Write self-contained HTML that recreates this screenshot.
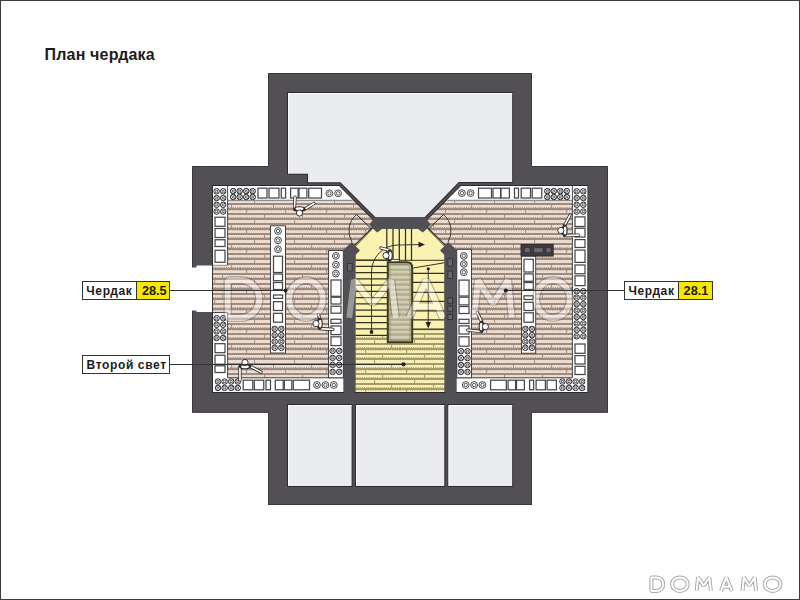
<!DOCTYPE html>
<html><head><meta charset="utf-8"><title>План чердака</title>
<style>
html,body{margin:0;padding:0;background:#fff;}
body{width:800px;height:600px;overflow:hidden;position:relative;font-family:"Liberation Sans",sans-serif;}
svg{position:absolute;left:0;top:0;display:block;}
.ttl{font-family:"Liberation Sans",sans-serif;font-weight:bold;font-size:16px;letter-spacing:0.17px;fill:#1c1c1c;}
.lb{font-family:"Liberation Sans",sans-serif;font-weight:bold;font-size:12px;letter-spacing:0.62px;fill:#1c1c1c;}
.lbn{font-family:"Liberation Sans",sans-serif;font-weight:bold;font-size:12.7px;fill:#231d00;}
.frame{position:absolute;left:0;top:0;width:798px;height:598px;border:1px solid #3c3c3c;pointer-events:none;}
</style></head>
<body>
<svg width="800" height="600" viewBox="0 0 800 600">
<defs>
<pattern id="pb" x="0" y="0" width="80" height="20" patternUnits="userSpaceOnUse">
 <rect width="80" height="20" fill="#ecdbcf"/>
 <rect y="3" width="80" height="2" fill="#9d8b80"/>
 <rect x="14" y="0" width="1.1" height="3" fill="#a89589"/>
 <rect x="54" y="0" width="1.1" height="3" fill="#a89589"/>
 <rect y="8" width="80" height="2" fill="#9d8b80"/>
 <rect x="33" y="5" width="1.1" height="3" fill="#a89589"/>
 <rect x="71" y="5" width="1.1" height="3" fill="#a89589"/>
 <path d="M0,7.5 H80" stroke="#9d8b80" stroke-width="0.9" stroke-dasharray="1,1.2"/>
 <rect y="13" width="80" height="2" fill="#9d8b80"/>
 <rect x="6" y="10" width="1.1" height="3" fill="#a89589"/>
 <rect x="45" y="10" width="1.1" height="3" fill="#a89589"/>
 <path d="M0,10.5 H80" stroke="#9d8b80" stroke-width="0.8" stroke-dasharray="1,1.4" stroke-opacity="0.7"/>
 <rect y="18" width="80" height="2" fill="#9d8b80"/>
 <rect x="24" y="15" width="1.1" height="3" fill="#a89589"/>
 <rect x="62" y="15" width="1.1" height="3" fill="#a89589"/>
 <path d="M0,17.5 H80" stroke="#9d8b80" stroke-width="0.9" stroke-dasharray="1,1.2"/>
</pattern>
<pattern id="py" x="0" y="0" width="80" height="20" patternUnits="userSpaceOnUse">
 <rect width="80" height="20" fill="#f5eebd"/>
 <rect y="3" width="80" height="2" fill="#a69c60"/>
 <rect x="14" y="0" width="1.1" height="3" fill="#aea468"/>
 <rect x="54" y="0" width="1.1" height="3" fill="#aea468"/>
 <rect y="8" width="80" height="2" fill="#a69c60"/>
 <rect x="33" y="5" width="1.1" height="3" fill="#aea468"/>
 <rect x="71" y="5" width="1.1" height="3" fill="#aea468"/>
 <path d="M0,7.5 H80" stroke="#a69c60" stroke-width="0.9" stroke-dasharray="1,1.2"/>
 <rect y="13" width="80" height="2" fill="#a69c60"/>
 <rect x="6" y="10" width="1.1" height="3" fill="#aea468"/>
 <rect x="45" y="10" width="1.1" height="3" fill="#aea468"/>
 <path d="M0,10.5 H80" stroke="#a69c60" stroke-width="0.8" stroke-dasharray="1,1.4" stroke-opacity="0.7"/>
 <rect y="18" width="80" height="2" fill="#a69c60"/>
 <rect x="24" y="15" width="1.1" height="3" fill="#aea468"/>
 <rect x="62" y="15" width="1.1" height="3" fill="#aea468"/>
 <path d="M0,17.5 H80" stroke="#a69c60" stroke-width="0.9" stroke-dasharray="1,1.2"/>
</pattern>
<pattern id="pw" x="0" y="0.6" width="40" height="10" patternUnits="userSpaceOnUse">
 <rect width="40" height="10" fill="#d3cfb2"/>
 <rect y="3.3" width="40" height="1.7" fill="#a9a384"/>
 <rect y="8.3" width="40" height="1.7" fill="#a9a384"/>
 <path d="M0,2.8 H40" stroke="#a9a384" stroke-width="0.9" stroke-dasharray="1,1.2"/>
</pattern>
<g id="bt">
 <circle r="2.75" fill="#fff" stroke="#2a2a2a" stroke-width="1.0"/>
 <circle r="1.05" fill="none" stroke="#333" stroke-width="0.7"/>
 <path d="M-2,-2 L-0.9,-0.9 M2,2 L0.9,0.9 M-2,2 L-0.9,0.9 M2,-2 L0.9,-0.9" stroke="#333" stroke-width="0.85"/>
</g>
</defs>
<polygon points="268.00,73.00 532.00,73.00 532.00,166.00 608.00,166.00 608.00,412.70 532.00,412.70 532.00,505.00 268.00,505.00 268.00,412.70 192.00,412.70 192.00,166.00 268.00,166.00" fill="#535055" stroke="none" stroke-width="0"/>
<polygon points="268.50,73.50 531.50,73.50 531.50,166.50 607.50,166.50 607.50,412.20 531.50,412.20 531.50,504.50 268.50,504.50 268.50,412.20 192.50,412.20 192.50,166.50 268.50,166.50" fill="none" stroke="#3a383c" stroke-width="1"/>
<rect x="191.00" y="267.50" width="22.00" height="43.00" fill="#fff" stroke="none" stroke-width="0"/>
<rect x="196.50" y="265.50" width="16.50" height="46.50" fill="#fff" stroke="none" stroke-width="0"/>
<polygon points="288.00,93.00 512.20,93.00 512.20,182.00 458.75,182.00 424.50,217.30 375.50,217.30 340.50,182.30 308.00,182.30 308.00,173.75 288.00,173.75" fill="#ebecef" stroke="#2c2a2e" stroke-width="2" paint-order="stroke" stroke-linejoin="miter"/>
<path d="M288.5,173.5 V93.5 H512.2" fill="none" stroke="#fbfbfc" stroke-width="1"/>
<polygon points="288.00,405.00 351.60,405.00 351.60,486.00 288.00,486.00" fill="#ebecef" stroke="#2c2a2e" stroke-width="2" paint-order="stroke" stroke-linejoin="miter"/>
<path d="M288.5,486 V405.5 H351.6" fill="none" stroke="#fbfbfc" stroke-width="1"/>
<polygon points="356.00,405.00 444.30,405.00 444.30,486.00 356.00,486.00" fill="#ebecef" stroke="#2c2a2e" stroke-width="2" paint-order="stroke" stroke-linejoin="miter"/>
<path d="M356.5,486 V405.5 H444.3" fill="none" stroke="#fbfbfc" stroke-width="1"/>
<polygon points="448.50,405.00 512.20,405.00 512.20,486.00 448.50,486.00" fill="#ebecef" stroke="#2c2a2e" stroke-width="2" paint-order="stroke" stroke-linejoin="miter"/>
<path d="M449.0,486 V405.5 H512.2" fill="none" stroke="#fbfbfc" stroke-width="1"/>
<polygon points="213.00,186.00 338.80,186.00 377.00,224.20 343.30,257.90 343.30,392.00 213.00,392.00" fill="url(#pb)" stroke="#2c2a2e" stroke-width="2" paint-order="stroke" stroke-linejoin="miter"/>
<polygon points="461.20,186.00 587.20,186.00 587.20,392.00 456.70,392.00 456.70,257.90 423.00,224.20" fill="url(#pb)" stroke="#2c2a2e" stroke-width="2" paint-order="stroke" stroke-linejoin="miter"/>
<polygon points="355.50,392.00 355.50,245.00 372.00,228.75 428.00,228.75 444.50,245.00 444.50,392.00" fill="#faf2b1" stroke="#2c2a2e" stroke-width="2" paint-order="stroke" stroke-linejoin="miter"/>
<rect x="355.50" y="329.00" width="89.00" height="62.80" fill="url(#py)" stroke="none" stroke-width="0"/>
<rect x="355.50" y="260.30" width="32.00" height="74.95" fill="#faf2b1" stroke="none" stroke-width="0"/>
<line x1="355.50" y1="260.20" x2="387.50" y2="260.20" stroke="#34301a" stroke-width="1.25"/>
<line x1="355.50" y1="266.45" x2="387.50" y2="266.45" stroke="#34301a" stroke-width="1.25"/>
<line x1="355.50" y1="272.71" x2="387.50" y2="272.71" stroke="#34301a" stroke-width="1.25"/>
<line x1="355.50" y1="278.96" x2="387.50" y2="278.96" stroke="#34301a" stroke-width="1.25"/>
<line x1="355.50" y1="285.22" x2="387.50" y2="285.22" stroke="#34301a" stroke-width="1.25"/>
<line x1="355.50" y1="291.47" x2="387.50" y2="291.47" stroke="#34301a" stroke-width="1.25"/>
<line x1="355.50" y1="297.72" x2="387.50" y2="297.72" stroke="#34301a" stroke-width="1.25"/>
<line x1="355.50" y1="303.98" x2="387.50" y2="303.98" stroke="#34301a" stroke-width="1.25"/>
<line x1="355.50" y1="310.23" x2="387.50" y2="310.23" stroke="#34301a" stroke-width="1.25"/>
<line x1="355.50" y1="316.49" x2="387.50" y2="316.49" stroke="#34301a" stroke-width="1.25"/>
<line x1="355.50" y1="322.74" x2="387.50" y2="322.74" stroke="#34301a" stroke-width="1.25"/>
<line x1="355.50" y1="328.99" x2="387.50" y2="328.99" stroke="#34301a" stroke-width="1.25"/>
<line x1="355.50" y1="335.25" x2="387.50" y2="335.25" stroke="#34301a" stroke-width="1.25"/>
<line x1="386.80" y1="228.75" x2="386.80" y2="260.30" stroke="#34301a" stroke-width="1.25"/>
<line x1="393.00" y1="228.75" x2="393.00" y2="260.30" stroke="#34301a" stroke-width="1.25"/>
<line x1="399.30" y1="228.75" x2="399.30" y2="260.30" stroke="#34301a" stroke-width="1.25"/>
<line x1="405.50" y1="228.75" x2="405.50" y2="260.30" stroke="#34301a" stroke-width="1.25"/>
<line x1="411.50" y1="228.75" x2="411.50" y2="260.30" stroke="#34301a" stroke-width="1.25"/>
<line x1="355.50" y1="260.30" x2="444.50" y2="260.30" stroke="#3b3520" stroke-width="1.0"/>
<line x1="412.50" y1="273.25" x2="444.50" y2="273.25" stroke="#34301a" stroke-width="1.25"/>
<line x1="412.50" y1="282.25" x2="444.50" y2="282.25" stroke="#34301a" stroke-width="1.25"/>
<line x1="412.50" y1="292.45" x2="444.50" y2="292.45" stroke="#34301a" stroke-width="1.25"/>
<line x1="412.50" y1="301.45" x2="444.50" y2="301.45" stroke="#34301a" stroke-width="1.25"/>
<line x1="412.50" y1="310.75" x2="444.50" y2="310.75" stroke="#34301a" stroke-width="1.25"/>
<line x1="412.50" y1="319.75" x2="444.50" y2="319.75" stroke="#34301a" stroke-width="1.25"/>
<line x1="412.50" y1="329.05" x2="444.50" y2="329.05" stroke="#34301a" stroke-width="1.25"/>
<line x1="413.25" y1="268.00" x2="444.30" y2="262.75" stroke="#3b3520" stroke-width="1.0"/>
<path d="M387.8,342.3 L387.8,262.3 L406.8,262.3 Q412.2,262.3 412.2,267.7 L412.2,342.3 Z" fill="url(#pw)" stroke="#3d3922" stroke-width="2.0"/>
<path d="M390,340.2 L390,264.5 L406.5,264.5 Q410,264.5 410,268 L410,340.2 Z" fill="none" stroke="#8d8868" stroke-width="0.8"/>
<path d="M371.5,332 L371.5,272 A26.5,27 0 0 1 398,245 L419,244.6" fill="none" stroke="#222" stroke-width="0.9"/>
<polygon points="425,244.6 418.5,241.8 418.5,247.4" fill="#222"/>
<circle cx="371.5" cy="332" r="1.9" fill="#222"/>
<line x1="428.25" y1="268.75" x2="428.25" y2="322.00" stroke="#222" stroke-width="0.9"/>
<polygon points="428.25,328.5 425.5,322 431,322" fill="#222"/>
<circle cx="428.25" cy="268.75" r="1.6" fill="#222"/>
<polygon points="372.90,219.60 369.20,225.00 377.10,232.60 382.00,229.00 382.00,217.30 375.50,217.30" fill="#535055" stroke="none" stroke-width="0"/>
<polygon points="427.10,219.60 430.80,225.00 422.90,232.60 418.00,229.00 418.00,217.30 424.50,217.30" fill="#535055" stroke="none" stroke-width="0"/>
<rect x="375.50" y="217.30" width="49.00" height="11.45" fill="#535055" stroke="none" stroke-width="0"/>
<polygon points="343.30,250.00 351.70,242.10 360.00,250.40 355.50,254.90 355.50,392.00 343.30,392.00" fill="#535055" stroke="none" stroke-width="0"/>
<polygon points="456.70,250.00 448.30,242.10 440.00,250.40 444.50,254.90 444.50,392.00 456.70,392.00" fill="#535055" stroke="none" stroke-width="0"/>
<rect x="347.60" y="263.50" width="4.50" height="7.50" fill="#6a676c" stroke="#2e2c30" stroke-width="0.8"/>
<rect x="447.90" y="258.80" width="4.50" height="7.40" fill="#6a676c" stroke="#2e2c30" stroke-width="0.8"/>
<rect x="447.90" y="271.20" width="4.50" height="7.30" fill="#6a676c" stroke="#2e2c30" stroke-width="0.8"/>
<rect x="447.90" y="298.00" width="4.50" height="5.20" fill="#6a676c" stroke="#2e2c30" stroke-width="0.8"/>
<rect x="447.90" y="306.20" width="4.50" height="5.00" fill="#6a676c" stroke="#2e2c30" stroke-width="0.8"/>
<rect x="447.90" y="314.40" width="4.50" height="5.20" fill="#6a676c" stroke="#2e2c30" stroke-width="0.8"/>
<line x1="371.70" y1="229.60" x2="355.80" y2="245.80" stroke="#222" stroke-width="0.9"/>
<line x1="428.30" y1="229.60" x2="444.20" y2="245.80" stroke="#222" stroke-width="0.9"/>
<line x1="372.00" y1="229.50" x2="356.50" y2="214.50" stroke="#222" stroke-width="1.0"/>
<path d="M356.5,214.5 A21.6,21.6 0 0 0 352,242" fill="none" stroke="#2a2a2a" stroke-width="0.9"/>
<line x1="428.00" y1="229.50" x2="443.50" y2="214.50" stroke="#222" stroke-width="1.0"/>
<path d="M443.5,214.5 A21.6,21.6 0 0 1 448,242" fill="none" stroke="#2a2a2a" stroke-width="0.9"/>
<polygon points="213.00,186.00 338.80,186.00 353.10,200.30 213.00,200.30" fill="#fff" stroke="none" stroke-width="0"/>
<line x1="227.50" y1="200.30" x2="352.50" y2="200.30" stroke="#8c8c8c" stroke-width="1.2"/>
<rect x="213.00" y="186.00" width="14.50" height="79.30" fill="#fff" stroke="none" stroke-width="0"/>
<line x1="227.60" y1="186.00" x2="227.60" y2="265.30" stroke="#333" stroke-width="0.9"/>
<line x1="213.00" y1="265.30" x2="227.50" y2="265.30" stroke="#8c8c8c" stroke-width="1"/>
<rect x="213.00" y="312.50" width="14.50" height="65.50" fill="#fff" stroke="none" stroke-width="0"/>
<line x1="227.60" y1="312.50" x2="227.60" y2="378.00" stroke="#333" stroke-width="0.9"/>
<line x1="213.00" y1="312.50" x2="227.50" y2="312.50" stroke="#333" stroke-width="0.9"/>
<rect x="213.00" y="377.80" width="130.30" height="14.20" fill="#fff" stroke="none" stroke-width="0"/>
<line x1="227.50" y1="377.80" x2="343.30" y2="377.80" stroke="#333" stroke-width="0.9"/>
<rect x="328.50" y="250.60" width="14.80" height="127.20" fill="#fff" stroke="#333" stroke-width="0.9"/>
<rect x="270.50" y="225.80" width="15.00" height="127.20" fill="#fff" stroke="#333" stroke-width="0.9"/>
<line x1="212.50" y1="265.30" x2="212.50" y2="312.50" stroke="#333" stroke-width="1"/>
<use href="#bt" x="233.20" y="191.10"/>
<use href="#bt" x="239.70" y="191.10"/>
<use href="#bt" x="246.20" y="191.10"/>
<use href="#bt" x="252.70" y="191.10"/>
<use href="#bt" x="233.20" y="197.00"/>
<use href="#bt" x="239.70" y="197.00"/>
<use href="#bt" x="246.20" y="197.00"/>
<use href="#bt" x="252.70" y="197.00"/>
<rect x="258.00" y="188.20" width="9.00" height="9.80" fill="#fff" stroke="#474747" stroke-width="1.25"/>
<rect x="269.00" y="188.20" width="10.00" height="9.80" fill="#fff" stroke="#474747" stroke-width="1.25"/>
<rect x="281.25" y="188.20" width="4.35" height="9.80" fill="#fff" stroke="#474747" stroke-width="1.25"/>
<rect x="290.60" y="188.20" width="7.50" height="9.80" fill="#fff" stroke="#474747" stroke-width="1.25"/>
<rect x="299.00" y="188.20" width="7.90" height="9.80" fill="#fff" stroke="#474747" stroke-width="1.25"/>
<rect x="308.75" y="188.20" width="12.75" height="9.80" fill="#fff" stroke="#474747" stroke-width="1.25"/>
<circle cx="329.40" cy="193.30" r="3.40" fill="#fff" stroke="#333" stroke-width="0.9"/>
<circle cx="329.40" cy="193.30" r="1.70" fill="none" stroke="#333" stroke-width="0.8"/>
<circle cx="338.10" cy="193.30" r="3.40" fill="#fff" stroke="#333" stroke-width="0.9"/>
<circle cx="338.10" cy="193.30" r="1.70" fill="none" stroke="#333" stroke-width="0.8"/>
<use href="#bt" x="216.60" y="191.30"/>
<use href="#bt" x="223.20" y="191.30"/>
<use href="#bt" x="216.60" y="198.05"/>
<use href="#bt" x="223.20" y="198.05"/>
<use href="#bt" x="216.60" y="204.80"/>
<use href="#bt" x="223.20" y="204.80"/>
<use href="#bt" x="216.60" y="211.55"/>
<use href="#bt" x="223.20" y="211.55"/>
<rect x="215.00" y="217.25" width="10.00" height="9.00" fill="#fff" stroke="#474747" stroke-width="1.25"/>
<rect x="215.00" y="228.50" width="10.00" height="9.00" fill="#fff" stroke="#474747" stroke-width="1.25"/>
<rect x="215.00" y="239.75" width="10.00" height="6.75" fill="#fff" stroke="#474747" stroke-width="1.25"/>
<rect x="215.00" y="250.25" width="10.00" height="12.00" fill="#fff" stroke="#474747" stroke-width="1.25"/>
<use href="#bt" x="216.60" y="318.20"/>
<use href="#bt" x="223.20" y="318.20"/>
<use href="#bt" x="216.60" y="324.80"/>
<use href="#bt" x="223.20" y="324.80"/>
<use href="#bt" x="216.60" y="331.40"/>
<use href="#bt" x="223.20" y="331.40"/>
<use href="#bt" x="216.60" y="338.00"/>
<use href="#bt" x="223.20" y="338.00"/>
<rect x="215.00" y="343.70" width="10.00" height="9.00" fill="#fff" stroke="#474747" stroke-width="1.25"/>
<rect x="215.00" y="355.25" width="10.00" height="9.00" fill="#fff" stroke="#474747" stroke-width="1.25"/>
<rect x="215.00" y="365.75" width="10.00" height="6.75" fill="#fff" stroke="#474747" stroke-width="1.25"/>
<use href="#bt" x="218.00" y="381.50"/>
<use href="#bt" x="224.60" y="381.50"/>
<use href="#bt" x="231.20" y="381.50"/>
<use href="#bt" x="237.80" y="381.50"/>
<use href="#bt" x="218.00" y="387.90"/>
<use href="#bt" x="224.60" y="387.90"/>
<use href="#bt" x="231.20" y="387.90"/>
<use href="#bt" x="237.80" y="387.90"/>
<rect x="243.20" y="380.20" width="9.60" height="9.60" fill="#fff" stroke="#474747" stroke-width="1.25"/>
<rect x="254.30" y="380.20" width="9.45" height="9.60" fill="#fff" stroke="#474747" stroke-width="1.25"/>
<rect x="266.00" y="380.20" width="4.50" height="9.60" fill="#fff" stroke="#474747" stroke-width="1.25"/>
<rect x="275.30" y="380.20" width="7.95" height="9.60" fill="#fff" stroke="#474747" stroke-width="1.25"/>
<rect x="284.30" y="380.20" width="7.50" height="9.60" fill="#fff" stroke="#474747" stroke-width="1.25"/>
<rect x="293.30" y="380.20" width="16.20" height="9.60" fill="#fff" stroke="#474747" stroke-width="1.25"/>
<circle cx="317.00" cy="385.00" r="3.40" fill="#fff" stroke="#333" stroke-width="0.9"/>
<circle cx="317.00" cy="385.00" r="1.70" fill="none" stroke="#333" stroke-width="0.8"/>
<circle cx="325.40" cy="385.00" r="3.40" fill="#fff" stroke="#333" stroke-width="0.9"/>
<circle cx="325.40" cy="385.00" r="1.70" fill="none" stroke="#333" stroke-width="0.8"/>
<circle cx="333.80" cy="385.00" r="3.40" fill="#fff" stroke="#333" stroke-width="0.9"/>
<circle cx="333.80" cy="385.00" r="1.70" fill="none" stroke="#333" stroke-width="0.8"/>
<circle cx="335.90" cy="255.90" r="3.40" fill="#fff" stroke="#333" stroke-width="0.9"/>
<circle cx="335.90" cy="255.90" r="1.70" fill="none" stroke="#333" stroke-width="0.8"/>
<circle cx="335.90" cy="264.80" r="3.40" fill="#fff" stroke="#333" stroke-width="0.9"/>
<circle cx="335.90" cy="264.80" r="1.70" fill="none" stroke="#333" stroke-width="0.8"/>
<circle cx="335.90" cy="273.60" r="3.40" fill="#fff" stroke="#333" stroke-width="0.9"/>
<circle cx="335.90" cy="273.60" r="1.70" fill="none" stroke="#333" stroke-width="0.8"/>
<rect x="331.00" y="280.00" width="10.00" height="16.30" fill="#fff" stroke="#474747" stroke-width="1.25"/>
<rect x="331.00" y="297.20" width="10.00" height="6.80" fill="#fff" stroke="#474747" stroke-width="1.25"/>
<rect x="331.00" y="306.20" width="10.00" height="7.00" fill="#fff" stroke="#474747" stroke-width="1.25"/>
<rect x="331.00" y="319.25" width="10.00" height="4.05" fill="#fff" stroke="#474747" stroke-width="1.25"/>
<rect x="331.00" y="326.00" width="10.00" height="8.60" fill="#fff" stroke="#474747" stroke-width="1.25"/>
<rect x="331.00" y="336.80" width="10.00" height="8.80" fill="#fff" stroke="#474747" stroke-width="1.25"/>
<use href="#bt" x="332.60" y="350.90"/>
<use href="#bt" x="339.20" y="350.90"/>
<use href="#bt" x="332.60" y="357.90"/>
<use href="#bt" x="339.20" y="357.90"/>
<use href="#bt" x="332.60" y="364.90"/>
<use href="#bt" x="339.20" y="364.90"/>
<use href="#bt" x="332.60" y="371.90"/>
<use href="#bt" x="339.20" y="371.90"/>
<circle cx="278.00" cy="231.00" r="3.40" fill="#fff" stroke="#333" stroke-width="0.9"/>
<circle cx="278.00" cy="231.00" r="1.70" fill="none" stroke="#333" stroke-width="0.8"/>
<circle cx="278.00" cy="240.30" r="3.40" fill="#fff" stroke="#333" stroke-width="0.9"/>
<circle cx="278.00" cy="240.30" r="1.70" fill="none" stroke="#333" stroke-width="0.8"/>
<circle cx="278.00" cy="249.20" r="3.40" fill="#fff" stroke="#333" stroke-width="0.9"/>
<circle cx="278.00" cy="249.20" r="1.70" fill="none" stroke="#333" stroke-width="0.8"/>
<rect x="273.50" y="256.20" width="9.00" height="16.30" fill="#fff" stroke="#474747" stroke-width="1.25"/>
<rect x="273.50" y="274.00" width="9.00" height="6.70" fill="#fff" stroke="#474747" stroke-width="1.25"/>
<rect x="273.50" y="282.50" width="9.00" height="7.00" fill="#fff" stroke="#474747" stroke-width="1.25"/>
<rect x="273.50" y="295.00" width="9.00" height="3.40" fill="#fff" stroke="#474747" stroke-width="1.25"/>
<rect x="273.50" y="301.70" width="9.00" height="8.80" fill="#fff" stroke="#474747" stroke-width="1.25"/>
<rect x="273.50" y="313.30" width="9.00" height="8.90" fill="#fff" stroke="#474747" stroke-width="1.25"/>
<use href="#bt" x="274.70" y="328.90"/>
<use href="#bt" x="281.30" y="328.90"/>
<use href="#bt" x="274.70" y="335.20"/>
<use href="#bt" x="281.30" y="335.20"/>
<use href="#bt" x="274.70" y="341.50"/>
<use href="#bt" x="281.30" y="341.50"/>
<use href="#bt" x="274.70" y="347.80"/>
<use href="#bt" x="281.30" y="347.80"/>
<polygon points="461.20,186.00 587.20,186.00 587.20,200.30 446.90,200.30" fill="#fff" stroke="none" stroke-width="0"/>
<line x1="447.50" y1="200.30" x2="572.50" y2="200.30" stroke="#8c8c8c" stroke-width="1.2"/>
<rect x="572.50" y="186.00" width="14.70" height="191.80" fill="#fff" stroke="none" stroke-width="0"/>
<line x1="572.40" y1="186.00" x2="572.40" y2="377.80" stroke="#333" stroke-width="0.9"/>
<rect x="456.70" y="377.80" width="130.50" height="14.20" fill="#fff" stroke="none" stroke-width="0"/>
<line x1="456.70" y1="377.80" x2="572.50" y2="377.80" stroke="#333" stroke-width="0.9"/>
<rect x="456.80" y="249.30" width="14.70" height="128.50" fill="#fff" stroke="#333" stroke-width="0.9"/>
<rect x="521.50" y="256.00" width="14.20" height="97.20" fill="#fff" stroke="#333" stroke-width="0.9"/>
<rect x="521.00" y="244.50" width="32.20" height="11.60" fill="#3f3c40" stroke="#222" stroke-width="0.8"/>
<rect x="524.50" y="247.80" width="5.50" height="5.00" fill="#6b686d" stroke="#2a282b" stroke-width="0.6"/>
<rect x="533.50" y="247.80" width="9.50" height="5.00" fill="#6b686d" stroke="#2a282b" stroke-width="0.6"/>
<rect x="546.00" y="247.80" width="5.00" height="5.00" fill="#6b686d" stroke="#2a282b" stroke-width="0.6"/>
<circle cx="461.90" cy="193.10" r="3.40" fill="#fff" stroke="#333" stroke-width="0.9"/>
<circle cx="461.90" cy="193.10" r="1.70" fill="none" stroke="#333" stroke-width="0.8"/>
<circle cx="470.60" cy="193.10" r="3.40" fill="#fff" stroke="#333" stroke-width="0.9"/>
<circle cx="470.60" cy="193.10" r="1.70" fill="none" stroke="#333" stroke-width="0.8"/>
<rect x="478.50" y="188.20" width="13.00" height="9.80" fill="#fff" stroke="#474747" stroke-width="1.25"/>
<rect x="493.00" y="188.20" width="7.60" height="9.80" fill="#fff" stroke="#474747" stroke-width="1.25"/>
<rect x="501.00" y="188.20" width="8.40" height="9.80" fill="#fff" stroke="#474747" stroke-width="1.25"/>
<rect x="514.50" y="188.20" width="4.00" height="9.80" fill="#fff" stroke="#474747" stroke-width="1.25"/>
<rect x="521.20" y="188.20" width="9.30" height="9.80" fill="#fff" stroke="#474747" stroke-width="1.25"/>
<rect x="532.20" y="188.20" width="9.60" height="9.80" fill="#fff" stroke="#474747" stroke-width="1.25"/>
<use href="#bt" x="547.30" y="191.10"/>
<use href="#bt" x="553.80" y="191.10"/>
<use href="#bt" x="560.30" y="191.10"/>
<use href="#bt" x="566.80" y="191.10"/>
<use href="#bt" x="547.30" y="197.00"/>
<use href="#bt" x="553.80" y="197.00"/>
<use href="#bt" x="560.30" y="197.00"/>
<use href="#bt" x="566.80" y="197.00"/>
<use href="#bt" x="576.70" y="191.30"/>
<use href="#bt" x="583.30" y="191.30"/>
<use href="#bt" x="576.70" y="198.05"/>
<use href="#bt" x="583.30" y="198.05"/>
<use href="#bt" x="576.70" y="204.80"/>
<use href="#bt" x="583.30" y="204.80"/>
<use href="#bt" x="576.70" y="211.55"/>
<use href="#bt" x="583.30" y="211.55"/>
<rect x="575.00" y="216.90" width="10.00" height="9.60" fill="#fff" stroke="#474747" stroke-width="1.25"/>
<rect x="575.00" y="228.25" width="10.00" height="8.75" fill="#fff" stroke="#474747" stroke-width="1.25"/>
<rect x="575.00" y="239.60" width="10.00" height="7.90" fill="#fff" stroke="#474747" stroke-width="1.25"/>
<rect x="575.00" y="250.10" width="10.00" height="12.30" fill="#fff" stroke="#474747" stroke-width="1.25"/>
<rect x="575.00" y="265.00" width="10.00" height="8.75" fill="#fff" stroke="#474747" stroke-width="1.25"/>
<rect x="575.00" y="275.90" width="10.00" height="9.70" fill="#fff" stroke="#474747" stroke-width="1.25"/>
<use href="#bt" x="576.70" y="291.20"/>
<use href="#bt" x="583.30" y="291.20"/>
<use href="#bt" x="576.70" y="297.65"/>
<use href="#bt" x="583.30" y="297.65"/>
<use href="#bt" x="576.70" y="304.10"/>
<use href="#bt" x="583.30" y="304.10"/>
<use href="#bt" x="576.70" y="310.55"/>
<use href="#bt" x="583.30" y="310.55"/>
<use href="#bt" x="576.70" y="317.00"/>
<use href="#bt" x="583.30" y="317.00"/>
<use href="#bt" x="576.70" y="323.45"/>
<use href="#bt" x="583.30" y="323.45"/>
<use href="#bt" x="576.70" y="329.90"/>
<use href="#bt" x="583.30" y="329.90"/>
<use href="#bt" x="576.70" y="336.35"/>
<use href="#bt" x="583.30" y="336.35"/>
<rect x="575.00" y="344.00" width="10.00" height="9.30" fill="#fff" stroke="#474747" stroke-width="1.25"/>
<rect x="575.00" y="355.60" width="10.00" height="8.40" fill="#fff" stroke="#474747" stroke-width="1.25"/>
<rect x="575.00" y="366.30" width="10.00" height="8.20" fill="#fff" stroke="#474747" stroke-width="1.25"/>
<circle cx="465.75" cy="385.00" r="3.40" fill="#fff" stroke="#333" stroke-width="0.9"/>
<circle cx="465.75" cy="385.00" r="1.70" fill="none" stroke="#333" stroke-width="0.8"/>
<circle cx="474.15" cy="385.00" r="3.40" fill="#fff" stroke="#333" stroke-width="0.9"/>
<circle cx="474.15" cy="385.00" r="1.70" fill="none" stroke="#333" stroke-width="0.8"/>
<circle cx="482.40" cy="385.00" r="3.40" fill="#fff" stroke="#333" stroke-width="0.9"/>
<circle cx="482.40" cy="385.00" r="1.70" fill="none" stroke="#333" stroke-width="0.8"/>
<rect x="490.60" y="380.20" width="15.75" height="9.60" fill="#fff" stroke="#474747" stroke-width="1.25"/>
<rect x="508.10" y="380.20" width="7.50" height="9.60" fill="#fff" stroke="#474747" stroke-width="1.25"/>
<rect x="516.50" y="380.20" width="7.90" height="9.60" fill="#fff" stroke="#474747" stroke-width="1.25"/>
<rect x="529.60" y="380.20" width="4.05" height="9.60" fill="#fff" stroke="#474747" stroke-width="1.25"/>
<rect x="536.10" y="380.20" width="9.30" height="9.60" fill="#fff" stroke="#474747" stroke-width="1.25"/>
<rect x="547.10" y="380.20" width="9.30" height="9.60" fill="#fff" stroke="#474747" stroke-width="1.25"/>
<use href="#bt" x="562.40" y="381.50"/>
<use href="#bt" x="569.00" y="381.50"/>
<use href="#bt" x="575.60" y="381.50"/>
<use href="#bt" x="582.20" y="381.50"/>
<use href="#bt" x="562.40" y="387.90"/>
<use href="#bt" x="569.00" y="387.90"/>
<use href="#bt" x="575.60" y="387.90"/>
<use href="#bt" x="582.20" y="387.90"/>
<circle cx="463.80" cy="255.90" r="3.40" fill="#fff" stroke="#333" stroke-width="0.9"/>
<circle cx="463.80" cy="255.90" r="1.70" fill="none" stroke="#333" stroke-width="0.8"/>
<circle cx="463.80" cy="264.00" r="3.40" fill="#fff" stroke="#333" stroke-width="0.9"/>
<circle cx="463.80" cy="264.00" r="1.70" fill="none" stroke="#333" stroke-width="0.8"/>
<circle cx="463.80" cy="272.20" r="3.40" fill="#fff" stroke="#333" stroke-width="0.9"/>
<circle cx="463.80" cy="272.20" r="1.70" fill="none" stroke="#333" stroke-width="0.8"/>
<rect x="459.00" y="280.10" width="10.00" height="15.90" fill="#fff" stroke="#474747" stroke-width="1.25"/>
<rect x="459.00" y="297.20" width="10.00" height="7.70" fill="#fff" stroke="#474747" stroke-width="1.25"/>
<rect x="459.00" y="306.50" width="10.00" height="7.00" fill="#fff" stroke="#474747" stroke-width="1.25"/>
<rect x="459.00" y="319.30" width="10.00" height="4.20" fill="#fff" stroke="#474747" stroke-width="1.25"/>
<rect x="459.00" y="325.90" width="10.00" height="8.10" fill="#fff" stroke="#474747" stroke-width="1.25"/>
<rect x="459.00" y="336.80" width="10.00" height="9.40" fill="#fff" stroke="#474747" stroke-width="1.25"/>
<use href="#bt" x="460.90" y="351.20"/>
<use href="#bt" x="467.50" y="351.20"/>
<use href="#bt" x="460.90" y="358.10"/>
<use href="#bt" x="467.50" y="358.10"/>
<use href="#bt" x="460.90" y="365.00"/>
<use href="#bt" x="467.50" y="365.00"/>
<use href="#bt" x="460.90" y="371.90"/>
<use href="#bt" x="467.50" y="371.90"/>
<rect x="524.00" y="259.20" width="9.30" height="12.80" fill="#fff" stroke="#474747" stroke-width="1.25"/>
<rect x="524.00" y="273.90" width="9.30" height="7.40" fill="#fff" stroke="#474747" stroke-width="1.25"/>
<rect x="524.00" y="282.50" width="9.30" height="7.00" fill="#fff" stroke="#474747" stroke-width="1.25"/>
<rect x="524.00" y="295.80" width="9.30" height="3.70" fill="#fff" stroke="#474747" stroke-width="1.25"/>
<rect x="524.00" y="302.30" width="9.30" height="8.20" fill="#fff" stroke="#474747" stroke-width="1.25"/>
<rect x="524.00" y="312.80" width="9.30" height="9.40" fill="#fff" stroke="#474747" stroke-width="1.25"/>
<use href="#bt" x="525.30" y="328.90"/>
<use href="#bt" x="531.90" y="328.90"/>
<use href="#bt" x="525.30" y="335.20"/>
<use href="#bt" x="531.90" y="335.20"/>
<use href="#bt" x="525.30" y="341.50"/>
<use href="#bt" x="531.90" y="341.50"/>
<use href="#bt" x="525.30" y="347.80"/>
<use href="#bt" x="531.90" y="347.80"/>
<g id="pp_def" style="display:none"></g>
<path d="M294.44,209.21 L295.00,197.00 M304.56,209.21 L314.00,203.50" stroke="#222" stroke-width="3.2" stroke-linecap="round" fill="none"/>
<path d="M294.44,209.21 L295.00,197.00 M304.56,209.21 L314.00,203.50" stroke="#fff" stroke-width="1.7" stroke-linecap="round" fill="none"/>
<ellipse cx="299.50" cy="209.21" rx="6.21" ry="2.99" transform="rotate(0 299.50 209.21)" fill="#2a2a2a"/>
<ellipse cx="299.50" cy="208.81" rx="3.91" ry="1.49" transform="rotate(0 299.50 208.81)" fill="#fff"/>
<circle cx="299.50" cy="213.00" r="3.10" fill="#fff" stroke="#222" stroke-width="0.9"/>
<path d="M250.06,366.30 L261.00,372.00 M239.94,366.30 L240.00,380.00" stroke="#222" stroke-width="3.2" stroke-linecap="round" fill="none"/>
<path d="M250.06,366.30 L261.00,372.00 M239.94,366.30 L240.00,380.00" stroke="#fff" stroke-width="1.7" stroke-linecap="round" fill="none"/>
<ellipse cx="245.00" cy="366.30" rx="6.21" ry="2.99" transform="rotate(180 245.00 366.30)" fill="#2a2a2a"/>
<ellipse cx="245.00" cy="366.69" rx="3.91" ry="1.49" transform="rotate(180 245.00 366.69)" fill="#fff"/>
<circle cx="245.00" cy="362.50" r="3.10" fill="#fff" stroke="#222" stroke-width="0.9"/>
<path d="M319.80,318.54 L318.60,315.00 M319.80,328.66 L333.00,329.40" stroke="#222" stroke-width="3.2" stroke-linecap="round" fill="none"/>
<path d="M319.80,318.54 L318.60,315.00 M319.80,328.66 L333.00,329.40" stroke="#fff" stroke-width="1.7" stroke-linecap="round" fill="none"/>
<ellipse cx="319.80" cy="323.60" rx="6.21" ry="2.99" transform="rotate(90 319.80 323.60)" fill="#2a2a2a"/>
<ellipse cx="320.19" cy="323.60" rx="3.91" ry="1.49" transform="rotate(90 320.19 323.60)" fill="#fff"/>
<circle cx="316.00" cy="323.60" r="3.10" fill="#fff" stroke="#222" stroke-width="0.9"/>
<path d="M389.80,250.44 L381.00,248.00 M389.80,260.56 L398.30,260.50" stroke="#222" stroke-width="3.2" stroke-linecap="round" fill="none"/>
<path d="M389.80,250.44 L381.00,248.00 M389.80,260.56 L398.30,260.50" stroke="#fff" stroke-width="1.7" stroke-linecap="round" fill="none"/>
<ellipse cx="389.80" cy="255.50" rx="6.21" ry="2.99" transform="rotate(90 389.80 255.50)" fill="#2a2a2a"/>
<ellipse cx="390.19" cy="255.50" rx="3.91" ry="1.49" transform="rotate(90 390.19 255.50)" fill="#fff"/>
<circle cx="386.00" cy="255.50" r="3.10" fill="#fff" stroke="#222" stroke-width="0.9"/>
<path d="M564.59,225.44 L570.10,214.90 M564.59,235.56 L578.70,235.20" stroke="#222" stroke-width="3.2" stroke-linecap="round" fill="none"/>
<path d="M564.59,225.44 L570.10,214.90 M564.59,235.56 L578.70,235.20" stroke="#fff" stroke-width="1.7" stroke-linecap="round" fill="none"/>
<ellipse cx="564.59" cy="230.50" rx="6.21" ry="2.99" transform="rotate(90 564.59 230.50)" fill="#2a2a2a"/>
<ellipse cx="564.99" cy="230.50" rx="3.91" ry="1.49" transform="rotate(90 564.99 230.50)" fill="#fff"/>
<circle cx="560.80" cy="230.50" r="3.10" fill="#fff" stroke="#222" stroke-width="0.9"/>
<path d="M481.60,331.66 L467.60,330.00 M481.60,321.54 L477.20,312.30" stroke="#222" stroke-width="3.2" stroke-linecap="round" fill="none"/>
<path d="M481.60,331.66 L467.60,330.00 M481.60,321.54 L477.20,312.30" stroke="#fff" stroke-width="1.7" stroke-linecap="round" fill="none"/>
<ellipse cx="481.60" cy="326.60" rx="6.21" ry="2.99" transform="rotate(-90 481.60 326.60)" fill="#2a2a2a"/>
<ellipse cx="481.20" cy="326.60" rx="3.91" ry="1.49" transform="rotate(-90 481.20 326.60)" fill="#fff"/>
<circle cx="485.40" cy="326.60" r="3.10" fill="#fff" stroke="#222" stroke-width="0.9"/>
<mask id="wmo" maskUnits="userSpaceOnUse" x="0" y="0" width="800" height="600"><rect width="800" height="600" fill="black"/><path d="M227.70,280.20 L227.70,317.80 L240.50,317.80 A18.80,18.80 0 0 0 240.50,280.20 Z M289.20,299.00 A16.80,18.80 0 1 0 322.80,299.00 A16.80,18.80 0 1 0 289.20,299.00 Z M349.20,317.80 L353.86,280.20 L372.50,303.51 L391.14,280.20 L395.80,317.80 M409.20,317.80 L426.00,280.20 L442.80,317.80 M414.24,306.52 L437.76,306.52 M474.20,317.80 L477.96,280.20 L493.00,303.51 L508.04,280.20 L511.80,317.80 M536.20,299.00 A16.80,18.80 0 1 0 569.80,299.00 A16.80,18.80 0 1 0 536.20,299.00 Z" fill="none" stroke="white" stroke-width="8.4" stroke-linejoin="bevel"/><path d="M227.70,280.20 L227.70,317.80 L240.50,317.80 A18.80,18.80 0 0 0 240.50,280.20 Z M289.20,299.00 A16.80,18.80 0 1 0 322.80,299.00 A16.80,18.80 0 1 0 289.20,299.00 Z M349.20,317.80 L353.86,280.20 L372.50,303.51 L391.14,280.20 L395.80,317.80 M409.20,317.80 L426.00,280.20 L442.80,317.80 M414.24,306.52 L437.76,306.52 M474.20,317.80 L477.96,280.20 L493.00,303.51 L508.04,280.20 L511.80,317.80 M536.20,299.00 A16.80,18.80 0 1 0 569.80,299.00 A16.80,18.80 0 1 0 536.20,299.00 Z" fill="none" stroke="black" stroke-width="6.0" stroke-linejoin="bevel"/></mask>
<path d="M227.70,280.20 L227.70,317.80 L240.50,317.80 A18.80,18.80 0 0 0 240.50,280.20 Z M289.20,299.00 A16.80,18.80 0 1 0 322.80,299.00 A16.80,18.80 0 1 0 289.20,299.00 Z M349.20,317.80 L353.86,280.20 L372.50,303.51 L391.14,280.20 L395.80,317.80 M409.20,317.80 L426.00,280.20 L442.80,317.80 M414.24,306.52 L437.76,306.52 M474.20,317.80 L477.96,280.20 L493.00,303.51 L508.04,280.20 L511.80,317.80 M536.20,299.00 A16.80,18.80 0 1 0 569.80,299.00 A16.80,18.80 0 1 0 536.20,299.00 Z" fill="none" stroke="#ffffff" stroke-opacity="0.4" stroke-width="6.0" stroke-linejoin="bevel"/>
<rect x="200" y="260" width="400" height="80" fill="#5e544e" fill-opacity="0.38" mask="url(#wmo)"/>
<line x1="169.50" y1="290.50" x2="285.50" y2="290.50" stroke="#333" stroke-width="1"/>
<circle cx="285.5" cy="290.5" r="1.9" fill="#222"/>
<line x1="169.50" y1="364.50" x2="403.50" y2="364.50" stroke="#333" stroke-width="1"/>
<circle cx="403.5" cy="364.3" r="2.1" fill="#222"/>
<line x1="505.80" y1="290.50" x2="624.50" y2="290.50" stroke="#333" stroke-width="1"/>
<circle cx="505.8" cy="290.5" r="2.1" fill="#222"/>
<rect x="82.5" y="281.5" width="87.0" height="18.0" fill="#fff" stroke="#333" stroke-width="1"/>
<rect x="136.5" y="281.5" width="33.0" height="18.0" fill="#f7e600" stroke="#333" stroke-width="1"/>
<text x="141.9" y="294.7" class="lbn">28.5</text>
<text x="86.3" y="294.7" class="lb">Чердак</text>
<rect x="82.5" y="355.5" width="87.0" height="18.0" fill="#fff" stroke="#333" stroke-width="1"/>
<text x="86.6" y="368.7" class="lb">Второй свет</text>
<rect x="624.5" y="281.5" width="88.0" height="18.0" fill="#fff" stroke="#333" stroke-width="1"/>
<rect x="678.5" y="281.5" width="34.0" height="18.0" fill="#f7e600" stroke="#333" stroke-width="1"/>
<text x="683.6" y="294.7" class="lbn">28.1</text>
<text x="628.4" y="294.7" class="lb">Чердак</text>
<text x="44.6" y="59.8" class="ttl">План чердака</text>
<path d="M651.40,577.40 L651.40,590.90 L656.55,590.90 A6.75,6.75 0 0 0 656.55,577.40 Z M672.00,584.15 A7.85,6.75 0 1 0 687.70,584.15 A7.85,6.75 0 1 0 672.00,584.15 Z M696.60,590.90 L698.02,577.40 L703.70,585.77 L709.38,577.40 L710.80,590.90 M721.00,590.90 L726.38,577.40 L731.75,590.90 M722.61,586.85 L730.14,586.85 M742.50,590.90 L743.85,577.40 L749.25,585.77 L754.65,577.40 L756.00,590.90 M764.80,584.15 A7.85,6.75 0 1 0 780.50,584.15 A7.85,6.75 0 1 0 764.80,584.15 Z" fill="none" stroke="#a9a9a9" stroke-opacity="1" stroke-width="4.0" stroke-linejoin="bevel"/>
<path d="M651.40,577.40 L651.40,590.90 L656.55,590.90 A6.75,6.75 0 0 0 656.55,577.40 Z M672.00,584.15 A7.85,6.75 0 1 0 687.70,584.15 A7.85,6.75 0 1 0 672.00,584.15 Z M696.60,590.90 L698.02,577.40 L703.70,585.77 L709.38,577.40 L710.80,590.90 M721.00,590.90 L726.38,577.40 L731.75,590.90 M722.61,586.85 L730.14,586.85 M742.50,590.90 L743.85,577.40 L749.25,585.77 L754.65,577.40 L756.00,590.90 M764.80,584.15 A7.85,6.75 0 1 0 780.50,584.15 A7.85,6.75 0 1 0 764.80,584.15 Z" fill="none" stroke="#ffffff" stroke-opacity="1" stroke-width="2.0" stroke-linejoin="bevel"/>
</svg>
<div class="frame"></div>
</body></html>
